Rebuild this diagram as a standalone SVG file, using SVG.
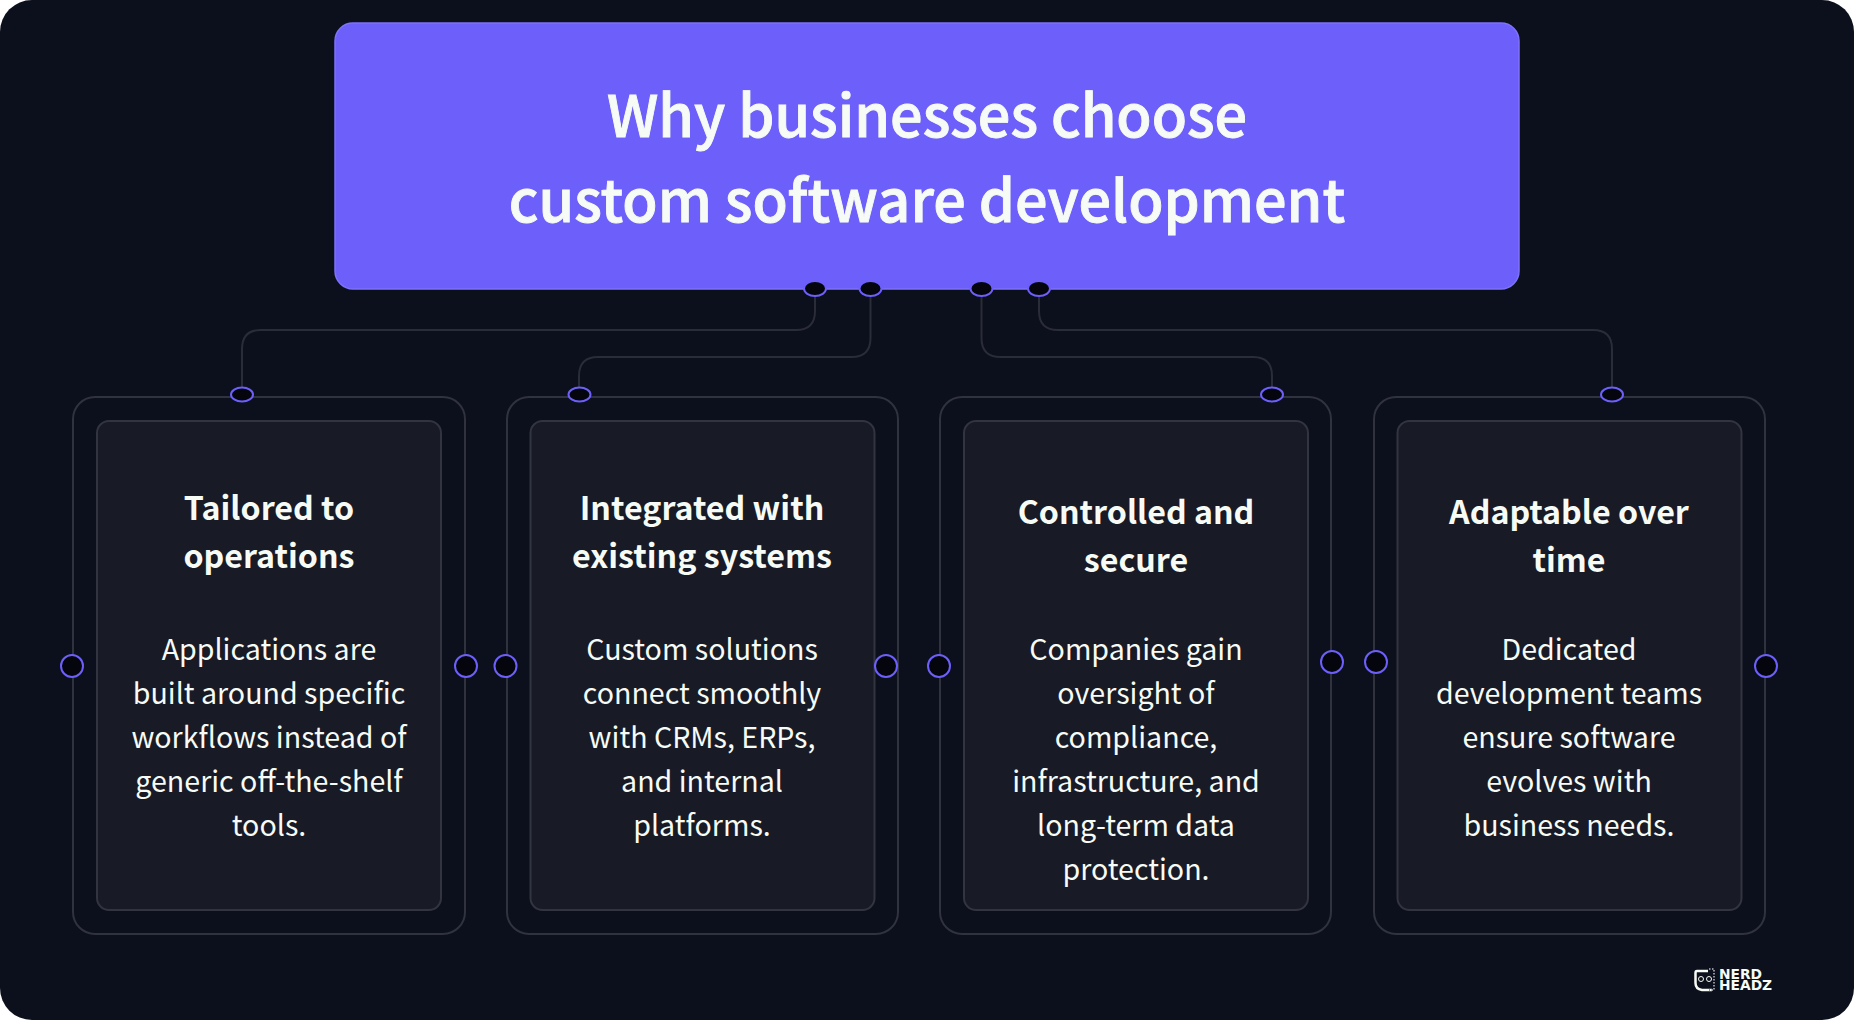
<svg xmlns="http://www.w3.org/2000/svg" width="1854" height="1020" viewBox="0 0 1854 1020">
<style>
text{font-family:"Noto Sans CJK SC","Noto Sans",sans-serif;fill:#f7fbf5;text-anchor:middle}
.t{font-size:57.500px;font-weight:500;stroke:#f7fbf5;stroke-width:.9px}
.h{font-size:32.200px;font-weight:700}
.b{font-size:28.600px;font-weight:400}
.o{fill:none;stroke:#30323d;stroke-width:2}
.i{fill:#181a26;stroke:#32343f;stroke-width:2}
.c{fill:none;stroke:#2a2c37;stroke-width:2}
.p{fill:#05050d;stroke:#6c5ffa;stroke-width:2}
.l{font-family:"DejaVu Sans",sans-serif;font-size:13.800px;font-weight:700;text-anchor:start}
</style>
<rect width="1854" height="1020" fill="#ffffff"/>
<rect width="1854" height="1020" rx="32" fill="#0c0f1c"/>
<g id="connectors">
<path class="c" d="M815 295V311Q815 330 796 330H261Q242 330 242 349V387"/>
<path class="c" d="M870.500 295V338Q870.500 357 851.500 357H598Q579 357 579 376V387"/>
<path class="c" d="M981.500 295V338Q981.500 357 1000.500 357H1253Q1272 357 1272 376V387"/>
<path class="c" d="M1039 295V311Q1039 330 1058 330H1593Q1612 330 1612 349V387"/>
</g>
<g id="header">
<rect x="335" y="23" width="1184" height="266" rx="18" fill="#6c5ffa" stroke="#7d72fb" stroke-width="1.500"/>
<text class="t" x="927" y="137">Why businesses choose</text>
<text class="t" x="927" y="222">custom software development</text>
<ellipse class="p" cx="815" cy="288.500" rx="11" ry="7.500"/>
<ellipse class="p" cx="870.500" cy="288.500" rx="11" ry="7.500"/>
<ellipse class="p" cx="981.500" cy="288.500" rx="11" ry="7.500"/>
<ellipse class="p" cx="1039" cy="288.500" rx="11" ry="7.500"/>
</g>
<g id="card1">
<rect class="o" x="73" y="397" width="392" height="537" rx="22"/>
<rect class="i" x="97" y="421" width="344" height="489" rx="12"/>
<text class="h" x="269" y="520">Tailored to</text><text class="h" x="269" y="568">operations</text>
<text class="b" x="269" y="660">Applications are</text><text class="b" x="269" y="704">built around specific</text><text class="b" x="269" y="748">workflows instead of</text><text class="b" x="269" y="792">generic off-the-shelf</text><text class="b" x="269" y="836">tools.</text>
<ellipse class="p" cx="242" cy="394.500" rx="11" ry="7"/><circle class="p" cx="72" cy="666" r="11"/><circle class="p" cx="466" cy="666" r="11"/>
</g>
<g id="card2">
<rect class="o" x="507" y="397" width="391" height="537" rx="22"/>
<rect class="i" x="530.500" y="421" width="344" height="489" rx="12"/>
<text class="h" x="702" y="520">Integrated with</text><text class="h" x="702" y="568">existing systems</text>
<text class="b" x="702" y="660">Custom solutions</text><text class="b" x="702" y="704">connect smoothly</text><text class="b" x="702" y="748">with CRMs, ERPs,</text><text class="b" x="702" y="792">and internal</text><text class="b" x="702" y="836">platforms.</text>
<ellipse class="p" cx="579.500" cy="394.500" rx="11" ry="7"/><circle class="p" cx="505.500" cy="666" r="11"/><circle class="p" cx="886" cy="666" r="11"/>
</g>
<g id="card3">
<rect class="o" x="940" y="397" width="391" height="537" rx="22"/>
<rect class="i" x="964" y="421" width="344" height="489" rx="12"/>
<text class="h" x="1136" y="524">Controlled and</text><text class="h" x="1136" y="572">secure</text>
<text class="b" x="1136" y="660">Companies gain</text><text class="b" x="1136" y="704">oversight of</text><text class="b" x="1136" y="748">compliance,</text><text class="b" x="1136" y="792">infrastructure, and</text><text class="b" x="1136" y="836">long-term data</text><text class="b" x="1136" y="880">protection.</text>
<ellipse class="p" cx="1272" cy="394.500" rx="11" ry="7"/><circle class="p" cx="939" cy="666" r="11"/><circle class="p" cx="1332" cy="662" r="11"/>
</g>
<g id="card4">
<rect class="o" x="1374" y="397" width="391" height="537" rx="22"/>
<rect class="i" x="1397.500" y="421" width="344" height="489" rx="12"/>
<text class="h" x="1569" y="524">Adaptable over</text><text class="h" x="1569" y="572">time</text>
<text class="b" x="1569" y="660">Dedicated</text><text class="b" x="1569" y="704">development teams</text><text class="b" x="1569" y="748">ensure software</text><text class="b" x="1569" y="792">evolves with</text><text class="b" x="1569" y="836">business needs.</text>
<ellipse class="p" cx="1612" cy="394.500" rx="11" ry="7"/><circle class="p" cx="1376" cy="662" r="11"/><circle class="p" cx="1766" cy="666" r="11"/>
</g>
<g id="logo">
<path d="M1708 971H1697Q1695.500 971 1695.500 973V983Q1695.500 989 1702 990H1712" fill="none" stroke="#f7fbf5" stroke-width="2.500"/>
<path d="M1709 969h5v21h-5" fill="none" stroke="#8f9199" stroke-width="2" stroke-dasharray="1.500 1.500"/>
<circle cx="1701" cy="979" r="2.500" fill="none" stroke="#f7fbf5" stroke-width="1"/><circle cx="1709" cy="979" r="2.500" fill="none" stroke="#f7fbf5" stroke-width="1"/>
<text class="l"><tspan x="1719" y="978.500">NERD</tspan><tspan x="1719" y="990">HEADZ</tspan></text>
</g>
</svg>
